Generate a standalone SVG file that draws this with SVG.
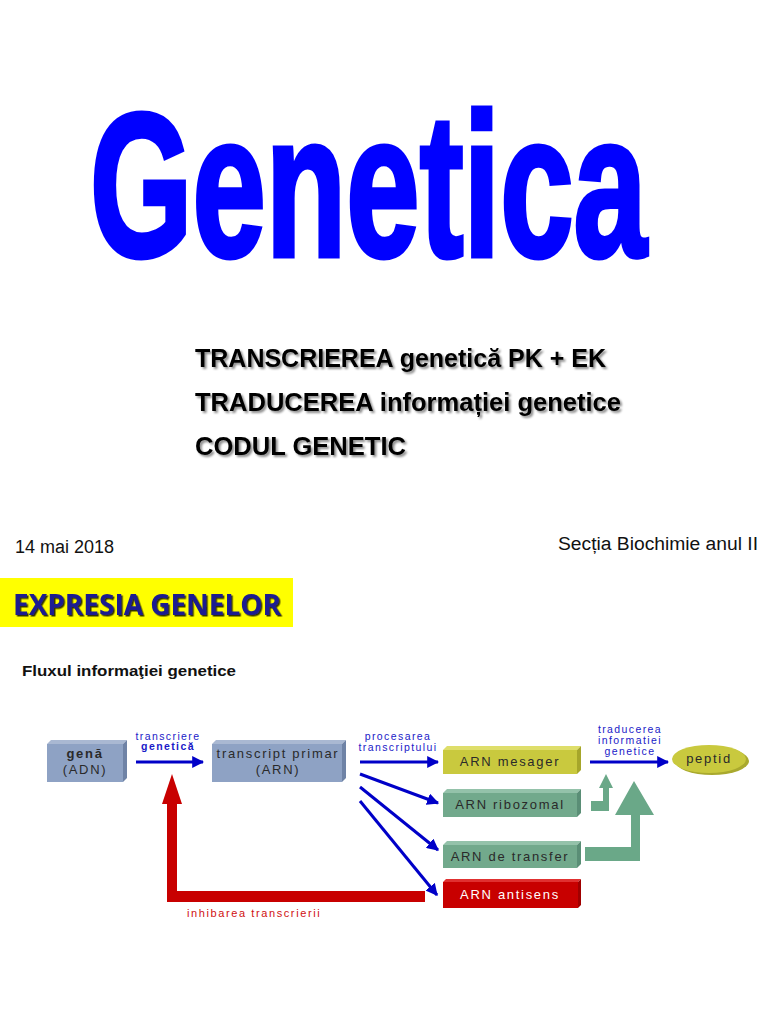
<svg xmlns="http://www.w3.org/2000/svg" width="768" height="1024" viewBox="0 0 768 1024">
<defs>
<style>
.sub{font-family:"Liberation Sans",Arial,sans-serif;font-weight:bold;font-size:25px;fill:#000}
.plain{font-family:"Liberation Sans",Arial,sans-serif;font-size:18px;fill:#111}
.bx{font-family:"Liberation Sans",Arial,sans-serif;font-size:13px;letter-spacing:1.7px;fill:#2a2a2a;text-anchor:middle}
.lbl{font-family:"Liberation Sans",Arial,sans-serif;font-size:10.5px;letter-spacing:1.4px;fill:#1a1ac8;text-anchor:middle}
.conn{stroke:#0000c8;stroke-width:3;fill:none;marker-end:url(#ah)}
</style>
<marker id="ah" viewBox="0 0 10 10" refX="9" refY="5" markerWidth="4" markerHeight="4" orient="auto" markerUnits="strokeWidth">
<path d="M0,0 L10,5 L0,10 z" fill="#0000c8"/>
</marker>
<filter id="sh" x="-5%" y="-20%" width="110%" height="150%">
<feDropShadow dx="2" dy="2" stdDeviation="1.2" flood-color="#000" flood-opacity="0.45"/>
</filter>
<filter id="sh2" x="-5%" y="-20%" width="110%" height="150%">
<feDropShadow dx="1.5" dy="1.5" stdDeviation="0.6" flood-color="#000" flood-opacity="0.8"/>
</filter>
</defs>
<rect width="768" height="1024" fill="#fff"/>

<g id="title">
<text transform="translate(90,256) scale(0.643,1)" x="0" y="0" font-family="Liberation Sans,Arial,sans-serif" font-weight="bold" font-size="205" fill="#0000ff" stroke="#0000ff" stroke-width="5" stroke-linejoin="miter">Genetica</text>
</g>

<g id="subtitles" filter="url(#sh)">
<text class="sub" x="195" y="367" textLength="411" lengthAdjust="spacingAndGlyphs">TRANSCRIEREA genetică PK + EK</text>
<text class="sub" x="195" y="411" textLength="426" lengthAdjust="spacingAndGlyphs">TRADUCEREA informației genetice</text>
<text class="sub" x="195" y="455" textLength="211" lengthAdjust="spacingAndGlyphs">CODUL GENETIC</text>
</g>

<g id="footer">
<text class="plain" x="15" y="553">14 mai 2018</text>
<text class="plain" x="558" y="550" textLength="200" lengthAdjust="spacingAndGlyphs">Secția Biochimie anul II</text>
</g>

<g id="expresia">
<rect x="0" y="578" width="293" height="49" fill="#ffff00"/>
<text x="13" y="615" font-family="Open Sans,Liberation Sans,sans-serif" font-weight="bold" font-size="29" fill="#1c1c90" filter="url(#sh2)" textLength="268" lengthAdjust="spacingAndGlyphs">EXPRESIA GENELOR</text>
</g>

<g id="flux-title">
<text x="22" y="676" font-family="Liberation Sans,Arial,sans-serif" font-weight="bold" font-size="15" fill="#111" textLength="214" lengthAdjust="spacingAndGlyphs">Fluxul informaţiei genetice</text>
</g>

<g id="connectors">
<line class="conn" x1="136" y1="762" x2="203" y2="762"/>
<line class="conn" x1="360" y1="762" x2="438" y2="762"/>
<line class="conn" x1="590" y1="762" x2="668" y2="762"/>
<line class="conn" x1="360" y1="774" x2="438" y2="803"/>
<line class="conn" x1="360" y1="787" x2="438" y2="850"/>
<line class="conn" x1="360" y1="801" x2="437" y2="895"/>
<polygon points="425,891 425,902 167,902 167,804 162,804 172,774 182,804 177,804 177,891" fill="#c80000"/>
<polygon points="591,801 603,801 603,788 599,788 606,774 613,788 609,788 609,811 591,811" fill="#6aa888"/>
<polygon points="585,847 631,847 631,815 615,815 634,781 654,815 640,815 640,861 585,861" fill="#6aa888"/>
<text class="lbl" x="168" y="740">transcriere</text>
<text class="lbl" x="168" y="750" font-weight="bold">genetică</text>
<text class="lbl" x="398" y="740">procesarea</text>
<text class="lbl" x="398" y="751">transcriptului</text>
<text class="lbl" x="630" y="733">traducerea</text>
<text class="lbl" x="630" y="744">informatiei</text>
<text class="lbl" x="630" y="755">genetice</text>
<text x="187" y="917" font-family="Liberation Sans,Arial,sans-serif" font-size="11" letter-spacing="1.6" fill="#d01010">inhibarea transcrierii</text>
</g>

<g id="gena">
<polygon points="47,744 51,740 127,740 123,744" fill="#a9b8d2"/>
<polygon points="123,744 127,740 127,778 123,782" fill="#6f83a6"/>
<rect x="47" y="744" width="76" height="38" fill="#8ea2c4"/>
<text class="bx" x="85" y="758" font-weight="bold">genă</text>
<text class="bx" x="85" y="774">(ADN)</text>
</g>

<g id="transcript">
<polygon points="212,744 216,740 346,740 342,744" fill="#a9b8d2"/>
<polygon points="342,744 346,740 346,778 342,782" fill="#6f83a6"/>
<rect x="212" y="744" width="130" height="38" fill="#8ea2c4"/>
<text class="bx" x="278" y="758">transcript primar</text>
<text class="bx" x="278" y="774">(ARN)</text>
</g>

<g id="mesager">
<polygon points="443,750 447,746 581,746 577,750" fill="#dede6a"/>
<polygon points="577,750 581,746 581,770 577,774" fill="#a6a62a"/>
<rect x="443" y="750" width="134" height="24" fill="#c9c93e"/>
<text class="bx" x="510" y="766">ARN mesager</text>
</g>

<g id="peptid">
<ellipse cx="712" cy="761" rx="37" ry="14" fill="#a9a92e"/>
<ellipse cx="709" cy="759" rx="37" ry="14" fill="#c9c93e"/>
<text class="bx" x="709" y="763">peptid</text>
</g>

<g id="ribozomal">
<polygon points="443,793 447,789 581,789 577,793" fill="#94c2aa"/>
<polygon points="577,793 581,789 581,813 577,817" fill="#5a8e76"/>
<rect x="443" y="793" width="134" height="24" fill="#72a98c"/>
<text class="bx" x="510" y="809">ARN ribozomal</text>
</g>

<g id="transfer">
<polygon points="443,845 447,841 581,841 577,845" fill="#94c2aa"/>
<polygon points="577,845 581,841 581,864 577,868" fill="#5a8e76"/>
<rect x="443" y="845" width="134" height="23" fill="#72a98c"/>
<text class="bx" x="510" y="861">ARN de transfer</text>
</g>

<g id="antisens">
<polygon points="443,882 446,879 581,879 578,882" fill="#e03030"/>
<polygon points="578,882 581,879 581,905 578,908" fill="#a00000"/>
<rect x="443" y="882" width="135" height="26" fill="#c80000"/>
<text class="bx" x="510" y="899" style="fill:#fff">ARN antisens</text>
</g>
</svg>
